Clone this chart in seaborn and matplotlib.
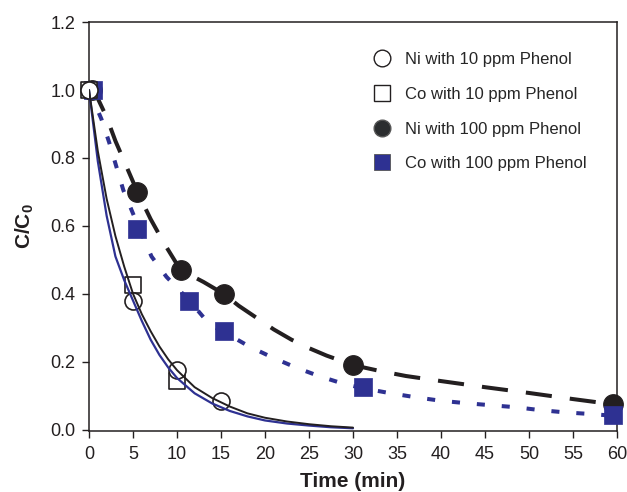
import matplotlib
matplotlib.use("Agg")
import matplotlib.pyplot as plt
from matplotlib.lines import Line2D
import seaborn as sns

# ===== DATA =====
# measured points
t_ni10 = [0, 5, 10, 15]
c_ni10 = [1.0, 0.38, 0.175, 0.083]

t_co10 = [0, 5, 10]
c_co10 = [1.0, 0.427, 0.142]

t_ni100 = [0.3, 5.5, 10.4, 15.3, 30, 59.5]
c_ni100 = [1.0, 0.70, 0.47, 0.40, 0.19, 0.075]

t_co100 = [0.5, 5.5, 11.4, 15.3, 31.1, 59.5]
c_co100 = [1.0, 0.59, 0.378, 0.29, 0.125, 0.043]

# fitted curves
t_fit10 = [0, 1, 2, 3, 4, 5, 6, 7, 8, 9, 10, 12, 14, 16, 18, 20, 22.5, 25, 27.5, 30]
fit_ni10 = [1.0, 0.82, 0.68, 0.57, 0.48, 0.40, 0.34, 0.29, 0.245, 0.207, 0.175,
            0.125, 0.093, 0.068, 0.048, 0.035, 0.024, 0.016, 0.010, 0.006]
fit_co10 = [1.0, 0.79, 0.63, 0.51, 0.44, 0.38, 0.32, 0.265, 0.22, 0.183, 0.152,
            0.107, 0.077, 0.055, 0.039, 0.027, 0.018, 0.012, 0.007, 0.004]

t_fit_ni100 = [0, 1, 2, 3, 4, 5.5, 7, 8.5, 10.4, 13, 15.3, 17, 19, 21, 23, 25, 27,
               30, 33, 36, 40, 45, 50, 55, 60]
fit_ni100 = [1.0, 0.975, 0.92, 0.85, 0.79, 0.70, 0.62, 0.55, 0.47, 0.435, 0.40, 0.365,
             0.33, 0.295, 0.265, 0.24, 0.218, 0.19, 0.173, 0.158, 0.143, 0.125,
             0.108, 0.09, 0.073]

t_fit_co100 = [0, 1.4, 2.3, 3.1, 3.9, 5.5, 7.1, 8.8, 11.4, 13.7, 15.5, 18.2, 20.8,
               23.5, 26.1, 28.8, 31.1, 34.3, 37.2, 40, 42.8, 45.6, 48.5, 51.1, 54,
               57, 60]
fit_co100 = [1.0, 0.915, 0.845, 0.775, 0.705, 0.605, 0.51, 0.45, 0.38, 0.31, 0.285,
             0.245, 0.213, 0.183, 0.158, 0.136, 0.122, 0.107, 0.095, 0.085, 0.078,
             0.072, 0.066, 0.058, 0.051, 0.046, 0.04]

labels = ["Ni with 10 ppm Phenol", "Co with 10 ppm Phenol",
          "Ni with 100 ppm Phenol", "Co with 100 ppm Phenol"]

BLACK = "#231f20"
BLUE = "#2e3192"

# ===== STYLE =====
sns.set_style("ticks")
plt.rcParams["font.family"] = ["Liberation Sans", "DejaVu Sans"]
plt.rcParams["mathtext.fontset"] = "custom"
plt.rcParams["mathtext.bf"] = "Liberation Sans:bold"
plt.rcParams["mathtext.rm"] = "Liberation Sans:bold"
plt.rcParams["mathtext.default"] = "bf"

fig = plt.figure(figsize=(6.27, 4.92), dpi=100)
ax = fig.add_axes([0.142, 0.124, 0.842, 0.831])

# dashed / dotted fits for 100 ppm
sns.lineplot(x=t_fit_ni100, y=fit_ni100, ax=ax, color=BLACK, lw=2.9,
             sort=False, zorder=2).lines[-1].set_dashes((6.5, 4.5))
sns.lineplot(x=t_fit_co100, y=fit_co100, ax=ax, color=BLUE, lw=2.9,
             sort=False, zorder=2).lines[-1].set_dashes((2.0, 4.2))

# filled markers
sns.scatterplot(x=t_ni100, y=c_ni100, ax=ax, marker="o", s=200, color=BLACK,
                edgecolor=BLACK, linewidth=0.8, zorder=3, clip_on=False)
sns.scatterplot(x=t_co100, y=c_co100, ax=ax, marker="s", s=180, color=BLUE,
                edgecolor=BLUE, linewidth=0.5, zorder=3, clip_on=False)

# open markers
sns.scatterplot(x=t_co10, y=c_co10, ax=ax, marker="s", s=145, color="white",
                edgecolor=BLACK, linewidth=1.2, zorder=4, clip_on=False)
sns.scatterplot(x=t_ni10, y=c_ni10, ax=ax, marker="o", s=150, color="white",
                edgecolor=BLACK, linewidth=1.2, zorder=4, clip_on=False)

# solid fits for 10 ppm
sns.lineplot(x=t_fit10, y=fit_co10, ax=ax, color=BLUE, lw=1.6, sort=False, zorder=5)
sns.lineplot(x=t_fit10, y=fit_ni10, ax=ax, color=BLACK, lw=1.4, sort=False, zorder=5)

# ===== AXES =====
ax.set_xlim(0, 60)
ax.set_ylim(-0.004, 1.2)
ax.set_xticks(range(0, 61, 5))
ax.set_yticks([0.0, 0.2, 0.4, 0.6, 0.8, 1.0, 1.2])
ax.set_yticklabels(["0.0", "0.2", "0.4", "0.6", "0.8", "1.0", "1.2"])
ax.tick_params(axis="both", direction="out", length=5, width=1, labelsize=13,
               color=BLACK, labelcolor=BLACK)
ax.tick_params(axis="x", pad=6)
ax.tick_params(axis="y", pad=5)
for sp in ax.spines.values():
    sp.set_visible(True)
    sp.set_linewidth(1.1)
    sp.set_color(BLACK)

ax.set_xlabel("Time (min)", fontsize=15, fontweight="bold", color=BLACK, labelpad=6)
ax.set_ylabel("C/C$_0$", fontsize=15, fontweight="bold", color=BLACK, labelpad=10)

# ===== LEGEND =====
handles = [
    Line2D([], [], ls="none", marker="o", ms=12, mfc="white", mec=BLACK, mew=1.0),
    Line2D([], [], ls="none", marker="s", ms=12, mfc="white", mec=BLACK, mew=1.0),
    Line2D([], [], ls="none", marker="o", ms=12, mfc="#2b2d2f", mec="#555555", mew=1.0),
    Line2D([], [], ls="none", marker="s", ms=12, mfc=BLUE, mec="#555555", mew=0.6),
]
ax.legend(handles, labels, loc="upper right", bbox_to_anchor=(0.965, 0.955),
          frameon=False, fontsize=12, labelspacing=1.18, handlelength=1.0,
          handletextpad=0.9, borderpad=0.2)

plt.savefig("out.png", dpi=100)
plt.close()
